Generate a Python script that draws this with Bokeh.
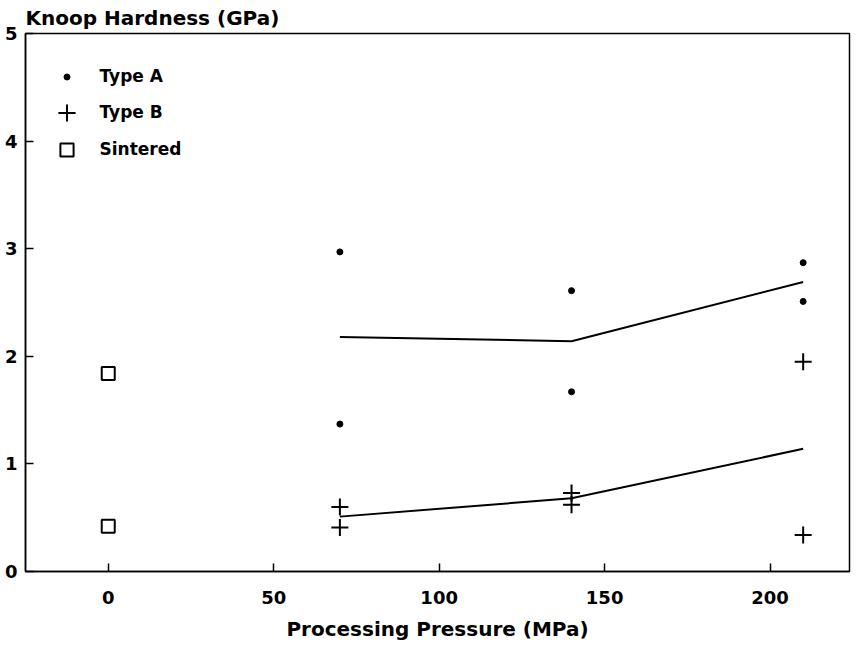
from bokeh.plotting import figure
from bokeh.models import Range1d, FixedTicker, Legend, LegendItem
from bokeh.embed import file_html
from bokeh.resources import INLINE

# ---- data ----
pressure_a = [70, 70, 140, 140, 210, 210]
hardness_a = [2.97, 1.37, 2.61, 1.67, 2.87, 2.51]
pressure_b = [70, 70, 140, 140, 210, 210]
hardness_b = [0.60, 0.41, 0.73, 0.62, 1.95, 0.34]
pressure_s = [0, 0]
hardness_s = [1.84, 0.42]
line_pressure = [70, 140, 210]
line_a = [2.18, 2.14, 2.69]
line_b = [0.51, 0.68, 1.14]
x_ticks = [0, 50, 100, 150, 200]
y_ticks = [0, 1, 2, 3, 4, 5]

FONT = "DejaVu Sans"

p = figure(width=852, height=648, output_backend="svg", toolbar_location=None,
           x_range=Range1d(-25, 224), y_range=Range1d(0, 5),
           min_border_left=25, min_border_right=3, min_border_top=30,
           min_border_bottom=77, title="Knoop Hardness (GPa)")
p.background_fill_color = "white"
p.border_fill_color = "white"
p.grid.visible = False
p.outline_line_color = "black"
p.outline_line_width = 1.5

p.title.text_font = FONT
p.title.text_font_size = "20px"
p.title.text_font_style = "bold"
p.title.text_color = "black"
p.title.align = "left"
p.title.standoff = 7
p.title.offset = 0

for ax in (p.xaxis[0], p.yaxis[0]):
    ax.axis_line_color = "black"
    ax.axis_line_width = 1.5
    ax.major_tick_in = 8
    ax.major_tick_out = 0
    ax.major_tick_line_width = 1.5
    ax.major_tick_line_color = "black"
    ax.minor_tick_line_color = None
    ax.major_label_text_font = FONT
    ax.major_label_text_font_size = "18px"
    ax.major_label_text_font_style = "bold"
    ax.major_label_text_color = "black"

p.xaxis.ticker = FixedTicker(ticks=x_ticks)
p.yaxis.ticker = FixedTicker(ticks=y_ticks)
p.xaxis.major_label_standoff = 19
p.yaxis.major_label_standoff = 8
p.xaxis.axis_label = "Processing Pressure (MPa)"
p.xaxis.axis_label_standoff = 10
p.xaxis.axis_label_text_font = FONT
p.xaxis.axis_label_text_font_size = "20px"
p.xaxis.axis_label_text_font_style = "bold"
p.xaxis.axis_label_text_color = "black"

p.line(line_pressure, line_a, line_color="black", line_width=2)
p.line(line_pressure, line_b, line_color="black", line_width=2)
r_a = p.scatter(pressure_a, hardness_a, marker="circle", size=6,
                fill_color="black", line_color="black")
r_b = p.scatter(pressure_b, hardness_b, marker="cross", size=17,
                line_color="black", line_width=2)
r_s = p.scatter(pressure_s, hardness_s, marker="square", size=13,
                fill_color=None, line_color="black", line_width=2)


def add_legend(label, renderer, gw, gh, loc, standoff):
    lg = Legend(items=[LegendItem(label=label, renderers=[renderer])],
                location=loc, glyph_width=gw, glyph_height=gh,
                label_height=gh, label_standoff=standoff, padding=0,
                margin=0, spacing=0, border_line_color=None,
                background_fill_alpha=0, label_text_font=FONT,
                label_text_font_size="17px", label_text_font_style="bold",
                label_text_color="black")
    p.add_layout(lg)


add_legend("Type A", r_a, 15, 43, (33.5, 473.5), 26)
add_legend("Type B", r_b, 43, 43, (19.5, 437.5), 12)
add_legend("Sintered", r_s, 33, 43, (24.5, 400.5), 17)

open("out.html", "w").write(file_html(p, INLINE))
